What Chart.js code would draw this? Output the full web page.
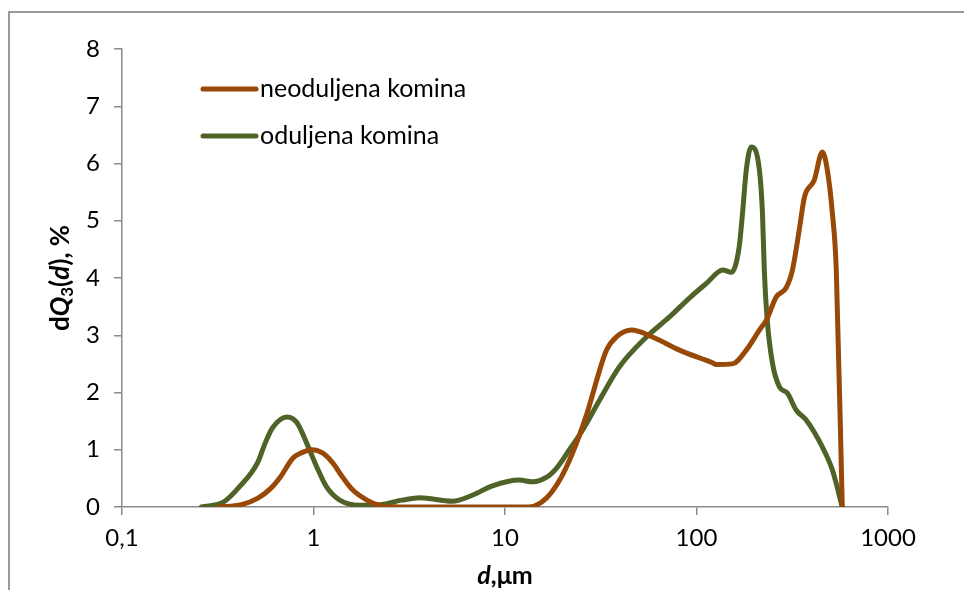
<!DOCTYPE html>
<html>
<head>
<meta charset="utf-8">
<script src="https://cdn.jsdelivr.net/npm/chart.js@4.4.1/dist/chart.umd.min.js"></script>
<style>
  body { margin: 0; background: #fff; }
  #wrap { position: relative; width: 964px; height: 590px; overflow: hidden; }
  #frame { position: absolute; left: 8px; top: 11px; width: 1000px; height: 700px;
           border-left: 2px solid #9a9a9a; border-top: 2px solid #9a9a9a; }
  canvas { position: absolute; left: 0; top: 0; }
</style>
</head>
<body>
<div id="wrap">
  <div id="frame"></div>
  <canvas id="psd" width="964" height="590"></canvas>
</div>
<script>
// Particle size distribution data
const seriesNames = ['neoduljena komina', 'oduljena komina'];

const neoX = [0.32, 0.42, 0.51, 0.6, 0.67, 0.78, 0.87, 0.98, 1.12, 1.26, 1.42, 1.6, 1.9, 2.2, 2.8,
  13.4, 16.5, 19.3, 22.5, 26.6, 28.3, 31.2, 33.9, 38.2, 45.7, 58.9, 81.5, 121, 127, 154, 182, 213,
  232, 261, 294, 317, 344, 366, 412, 454, 482, 512, 537, 577];
const neoY = [0, 0.04, 0.15, 0.33, 0.52, 0.85, 0.95, 1.0, 0.94, 0.77, 0.52, 0.30, 0.12, 0.03, 0,
  0, 0.16, 0.47, 0.94, 1.6, 1.9, 2.39, 2.74, 2.97, 3.09, 2.97, 2.74, 2.52, 2.49, 2.5, 2.74, 3.09,
  3.27, 3.67, 3.83, 4.14, 4.84, 5.41, 5.71, 6.2, 5.89, 5.14, 4.14, 0];

const odX = [0.26, 0.34, 0.41, 0.51, 0.56, 0.61, 0.73, 0.82, 0.92, 1.04, 1.17, 1.37, 1.74, 2.1, 2.9,
  3.6, 5.3, 6.8, 8.6, 11.9, 13.9, 16.5, 18.6, 21.7, 25.4, 31.2, 39.6, 54.8, 72.3, 91.8, 113, 137,
  152, 167, 174, 182, 193, 213, 221, 226, 234, 249, 271, 298, 332, 374, 454, 512, 577];
const odY = [0, 0.09, 0.35, 0.77, 1.12, 1.38, 1.57, 1.47, 1.12, 0.7, 0.35, 0.12, 0.03, 0.03, 0.12,
  0.16, 0.1, 0.21, 0.37, 0.47, 0.44, 0.52, 0.68, 1.0, 1.34, 1.87, 2.45, 2.97, 3.32, 3.65, 3.91, 4.14,
  4.10, 4.54, 5.14, 5.89, 6.29, 5.89, 5.14, 4.14, 3.27, 2.52, 2.10, 1.99, 1.69, 1.52, 1.05, 0.65, 0];

const xTickValues = [0.1, 1, 10, 100, 1000];
const xTickLabels = ['0,1', '1', '10', '100', '1000'];
const yMin = 0, yMax = 8;

const colors = ['#984807', '#4f6228'];
const FONT = 'Lato';
const axisColor = '#8c8c8c';

function toPoints(xs, ys) {
  return xs.map((x, i) => ({ x: x, y: ys[i] }));
}

// draws text made of styled pieces, centred on (cx, cy)
function drawRich(ctx, parts, cx, cy, angle) {
  ctx.save();
  ctx.translate(cx, cy);
  ctx.rotate(angle);
  ctx.textBaseline = 'middle';
  ctx.textAlign = 'left';
  ctx.fillStyle = '#000';
  let total = 0;
  parts.forEach(p => { ctx.font = p.font; p.w = ctx.measureText(p.t).width; total += p.w; });
  let x = -total / 2;
  parts.forEach(p => {
    ctx.font = p.font;
    ctx.fillText(p.t, x, p.dy || 0);
    x += p.w;
  });
  ctx.restore();
}

const extras = {
  id: 'extras',
  afterDraw(chart) {
    const ctx = chart.ctx;
    // legend inside plot
    const rows = [89, 136];
    rows.forEach((y, i) => {
      ctx.save();
      ctx.strokeStyle = colors[i];
      ctx.lineWidth = 5;
      ctx.lineCap = 'round';
      ctx.beginPath();
      ctx.moveTo(203, y);
      ctx.lineTo(256, y);
      ctx.stroke();
      ctx.fillStyle = '#000';
      ctx.font = '25px ' + FONT;
      ctx.textBaseline = 'middle';
      ctx.fillText(seriesNames[i], 260, y);
      ctx.restore();
    });

    const b = 'bold 26px ' + FONT, bi = 'italic bold 26px ' + FONT;
    drawRich(ctx, [
      { t: 'd', font: b },
      { t: 'Q', font: bi },
      { t: '3', font: 'bold 17px ' + FONT, dy: 7 },
      { t: '(', font: b },
      { t: 'd', font: bi },
      { t: '), %', font: b }
    ], 61, 278, -Math.PI / 2);

    drawRich(ctx, [
      { t: 'd', font: 'italic bold 25px ' + FONT },
      { t: ',\u03bcm', font: 'bold 25px ' + FONT }
    ], 505, 576, 0);
  }
};

new Chart(document.getElementById('psd'), {
  type: 'line',
  data: {
    datasets: [
      { label: seriesNames[0], data: toPoints(neoX, neoY) },
      { label: seriesNames[1], data: toPoints(odX, odY) }
    ].map((d, i) => Object.assign(d, {
      borderColor: colors[i],
      backgroundColor: colors[i],
      borderWidth: 5,
      pointRadius: 0,
      fill: false,
      cubicInterpolationMode: 'monotone',
      borderCapStyle: 'round',
      borderJoinStyle: 'round'
    }))
  },
  options: {
    responsive: false,
    animation: false,
    devicePixelRatio: 1,
    layout: { padding: { top: 49, right: 76, left: 0, bottom: 0 } },
    plugins: { legend: { display: false }, tooltip: { enabled: false } },
    scales: {
      x: {
        type: 'logarithmic',
        min: 0.1,
        max: 1000,
        afterBuildTicks: s => { s.ticks = xTickValues.map(v => ({ value: v })); },
        afterFit: s => { s.height = 83; },
        ticks: {
          color: '#000',
          font: { family: FONT, size: 24 },
          padding: 9,
          maxRotation: 0,
          autoSkip: false,
          callback: v => {
            const i = xTickValues.findIndex(t => Math.abs(t - v) / t < 1e-6);
            return i >= 0 ? xTickLabels[i] : '';
          }
        },
        grid: { drawOnChartArea: false, drawTicks: true, tickLength: 8, color: axisColor, lineWidth: 1.5 },
        border: { display: true, color: axisColor, width: 1.5 }
      },
      y: {
        min: yMin,
        max: yMax,
        afterFit: s => { s.width = 122; },
        ticks: {
          stepSize: 1,
          color: '#000',
          font: { family: FONT, size: 24 },
          padding: 14
        },
        grid: { drawOnChartArea: false, drawTicks: true, tickLength: 8, color: axisColor, lineWidth: 1.5 },
        border: { display: true, color: axisColor, width: 1.5 }
      }
    }
  },
  plugins: [extras]
});
</script>
</body>
</html>
